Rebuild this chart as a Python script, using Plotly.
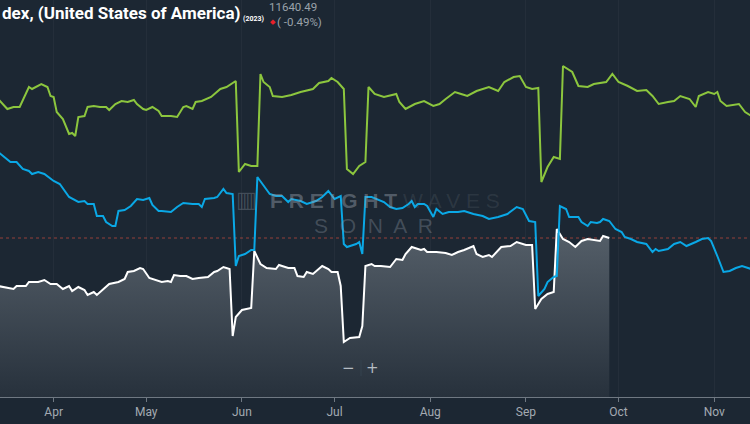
import plotly.graph_objects as go

# ---------------- data ----------------
GREEN_DAYS = ["03-14", "03-17", "03-19", "03-21", "03-24", "03-25", "03-28", "03-30", "03-31", "04-01",
              "04-02", "04-04", "04-06", "04-07", "04-08", "04-09", "04-11", "04-12", "04-14", "04-16",
              "04-18", "04-19", "04-21", "04-23", "04-25", "04-27", "04-28", "04-30", "05-01", "05-03",
              "05-05", "05-06", "05-09", "05-11", "05-13", "05-14", "05-16", "05-17", "05-19", "05-22",
              "05-25", "05-27", "05-30", "05-31", "06-02", "06-04", "06-06", "06-07", "06-08", "06-10",
              "06-11", "06-14", "06-17", "06-20", "06-24", "06-26", "06-29", "06-30", "07-02", "07-04",
              "07-05", "07-07", "07-09", "07-11", "07-12", "07-14", "07-17", "07-21", "07-22", "07-24",
              "07-27", "07-30", "08-02", "08-04", "08-06", "08-09", "08-11", "08-13", "08-16", "08-18",
              "08-20", "08-23", "08-25", "08-28", "08-30", "09-01", "09-03", "09-05", "09-06", "09-08",
              "09-10", "09-12", "09-13", "09-16", "09-18", "09-21", "09-23", "09-27", "09-29", "10-01",
              "10-04", "10-07", "10-10", "10-12", "10-14", "10-17", "10-19", "10-21", "10-24", "10-26",
              "10-27", "10-30", "11-01", "11-02", "11-03", "11-05", "11-08", "11-09", "11-11", "11-13"]
GREEN_VALUES = [298, 288, 290, 290, 310, 308, 313, 310, 301, 300,
                285, 278, 263, 264, 261, 280, 281, 290, 291, 290,
                290, 287, 293, 296, 295, 297, 293, 288, 287, 290,
                286, 281, 281, 280, 290, 291, 288, 295, 296, 300,
                308, 310, 316, 225, 233, 231, 231, 323, 315, 310,
                301, 300, 302, 305, 308, 314, 316, 319, 315, 308,
                228, 223, 231, 235, 310, 303, 300, 303, 295, 288,
                293, 296, 291, 293, 298, 305, 303, 301, 306, 308,
                310, 306, 315, 320, 321, 310, 308, 309, 215, 230,
                240, 238, 331, 325, 311, 310, 313, 315, 323, 315,
                311, 306, 307, 301, 293, 295, 296, 301, 298, 290,
                301, 305, 303, 305, 296, 291, 293, 293, 285, 281]

BLUE_DAYS = ["03-14", "03-18", "03-20", "03-22", "03-24", "03-25", "03-27", "03-29", "04-01", "04-03",
             "04-06", "04-09", "04-11", "04-12", "04-14", "04-15", "04-17", "04-18", "04-20", "04-21",
             "04-22", "04-24", "04-26", "04-28", "04-30", "05-02", "05-03", "05-05", "05-06", "05-09",
             "05-11", "05-13", "05-16", "05-18", "05-19", "05-20", "05-23", "05-24", "05-26", "05-27",
             "05-29", "05-30", "05-31", "06-02", "06-04", "06-05", "06-06", "06-08", "06-10", "06-12",
             "06-14", "06-16", "06-17", "06-20", "06-22", "06-25", "06-27", "06-29", "07-01", "07-03",
             "07-04", "07-05", "07-08", "07-09", "07-10", "07-11", "07-13", "07-17", "07-19", "07-21",
             "07-23", "07-25", "07-26", "07-27", "07-28", "07-30", "07-31", "08-02", "08-03", "08-05",
             "08-07", "08-10", "08-12", "08-15", "08-18", "08-20", "08-23", "08-26", "08-29", "08-31",
             "09-02", "09-04", "09-05", "09-07", "09-08", "09-10", "09-11", "09-12", "09-14", "09-15",
             "09-18", "09-19", "09-21", "09-22", "09-24", "09-25", "09-26", "09-28", "09-30", "10-02",
             "10-03", "10-05", "10-07", "10-10", "10-12", "10-13", "10-14", "10-17", "10-19", "10-21",
             "10-23", "10-26", "10-28", "10-30", "10-31", "11-02", "11-04", "11-06", "11-08", "11-10",
             "11-13"]
BLUE_VALUES = [245, 235, 235, 228, 226, 223, 225, 223, 216, 213,
               200, 195, 196, 193, 193, 181, 181, 175, 171, 171,
               186, 187, 191, 198, 197, 199, 192, 186, 186, 185,
               190, 194, 193, 193, 190, 198, 199, 200, 208, 204,
               203, 131, 141, 143, 147, 147, 220, 211, 203, 201,
               201, 195, 198, 196, 193, 196, 200, 206, 198, 201,
               153, 150, 153, 155, 143, 200, 200, 195, 190, 188,
               189, 193, 196, 190, 193, 193, 191, 180, 188, 183,
               185, 185, 186, 183, 181, 178, 180, 183, 190, 188,
               176, 175, 101, 108, 115, 120, 121, 191, 188, 180,
               180, 175, 171, 175, 174, 175, 178, 176, 168, 165,
               160, 158, 155, 153, 145, 148, 146, 148, 153, 155,
               151, 155, 158, 159, 156, 141, 125, 126, 129, 131,
               128]

WHITE_DAYS = ["03-14", "03-17", "03-19", "03-20", "03-23", "03-24", "03-27", "03-29", "03-31", "04-02",
              "04-03", "04-04", "04-06", "04-07", "04-09", "04-11", "04-12", "04-14", "04-15", "04-17",
              "04-19", "04-22", "04-24", "04-25", "04-27", "04-29", "04-30", "05-02", "05-04", "05-06",
              "05-08", "05-09", "05-10", "05-12", "05-14", "05-16", "05-18", "05-21", "05-23", "05-24",
              "05-26", "05-28", "05-29", "05-30", "06-01", "06-04", "06-05", "06-07", "06-09", "06-12",
              "06-13", "06-16", "06-18", "06-19", "06-21", "06-22", "06-24", "06-25", "06-27", "06-29",
              "06-30", "07-02", "07-03", "07-04", "07-06", "07-09", "07-10", "07-11", "07-13", "07-14",
              "07-16", "07-19", "07-21", "07-23", "07-24", "07-26", "07-29", "07-30", "07-31", "08-03",
              "08-06", "08-08", "08-10", "08-12", "08-15", "08-16", "08-18", "08-20", "08-21", "08-24",
              "08-27", "08-29", "09-01", "09-03", "09-04", "09-06", "09-08", "09-10", "09-11", "09-13",
              "09-15", "09-17", "09-19", "09-21", "09-23", "09-25", "09-26", "09-27", "09-28"]
WHITE_VALUES = [111, 109, 108, 111, 111, 115, 115, 117, 113, 113,
                110, 108, 111, 106, 110, 107, 102, 105, 102, 108,
                113, 115, 118, 125, 126, 129, 128, 119, 117, 115,
                116, 115, 122, 121, 121, 118, 119, 120, 125, 126,
                130, 128, 61, 80, 87, 89, 146, 133, 129, 128,
                132, 129, 129, 121, 120, 125, 123, 126, 131, 128,
                125, 125, 111, 55, 59, 60, 71, 131, 133, 131,
                131, 130, 138, 137, 143, 150, 147, 148, 145, 145,
                144, 142, 145, 147, 151, 143, 140, 142, 140, 150,
                151, 155, 152, 152, 88, 98, 103, 105, 168, 158,
                155, 150, 156, 158, 157, 156, 161, 160, 159]

REF_LEVEL = 159

MONTH_TICKS = ["2023-04-01", "2023-05-01", "2023-06-01", "2023-07-01",
               "2023-08-01", "2023-09-01", "2023-10-01", "2023-11-01"]
MONTH_LABELS = ["Apr", "May", "Jun", "Jul", "Aug", "Sep", "Oct", "Nov"]
X_RANGE = ["2023-03-14 15:00", "2023-11-12 14:00"]

TITLE = "dex, (United States of America)"
TITLE_YEAR = "(2023)"
LAST_VALUE = "11640.49"
LAST_CHANGE = "( -0.49%)"


def dates(days):
    return ["2023-" + d for d in days]


BG = "#1c2733"
W, H = 750, 424
B = 27
PH = H - B


def py(pix):
    return 1 - pix / PH


fig = go.Figure()
fig.add_trace(go.Scatter(
    x=dates(WHITE_DAYS), y=WHITE_VALUES, mode="lines",
    line=dict(color="#ffffff", width=2),
    fill="tozeroy",
    fillgradient=dict(type="vertical", start=0, stop=160,
                      colorscale=[[0, "#27313c"], [1, "#535d67"]]),
    hoverinfo="skip", showlegend=False))
fig.add_trace(go.Scatter(
    x=dates(BLUE_DAYS), y=BLUE_VALUES, mode="lines",
    line=dict(color="#0aa8e6", width=2), hoverinfo="skip", showlegend=False))
fig.add_trace(go.Scatter(
    x=dates(GREEN_DAYS), y=GREEN_VALUES, mode="lines",
    line=dict(color="#8cc63e", width=2), hoverinfo="skip", showlegend=False))

fig.add_hline(y=REF_LEVEL, line=dict(color="#93403a", width=1, dash="3px,3px"), layer="below")

fig.update_layout(
    width=W, height=H,
    margin=dict(l=0, r=0, t=0, b=B),
    paper_bgcolor=BG, plot_bgcolor=BG,
    font=dict(family="Roboto", color="#a3aab2"),
    xaxis=dict(range=X_RANGE, tickvals=MONTH_TICKS, ticktext=MONTH_LABELS,
               showgrid=True, gridcolor="rgba(255,255,255,0.035)", gridwidth=1,
               showline=True, linecolor="#6f7882", linewidth=1,
               ticks="outside", ticklen=4, tickcolor="#6f7882",
               tickfont=dict(size=12, color="#a3aab2", family="Roboto"),
               fixedrange=True),
    yaxis=dict(range=[0, PH], visible=False, showgrid=False, fixedrange=True),
)

WM_BOLD = "rgba(150,160,170,0.45)"
WM_LIGHT = "rgba(150,160,170,0.32)"

ann = []
# title block
ann.append(dict(text="<b>" + TITLE + "</b>", x=0, y=py(13), xanchor="left", yanchor="middle",
                font=dict(size=17, color="#ffffff", family="Roboto")))
ann.append(dict(text="<b>" + TITLE_YEAR + "</b>", x=241 / W, y=py(19), xanchor="left", yanchor="middle",
                font=dict(size=7, color="#ffffff", family="Roboto")))
ann.append(dict(text=LAST_VALUE, x=267 / W, y=py(7), xanchor="left", yanchor="middle",
                font=dict(size=11.5, color="#9aa2aa", family="Roboto")))
ann.append(dict(text="◆", x=268 / W, y=py(22), xanchor="left", yanchor="middle",
                font=dict(size=7, color="#e8202a", family="DejaVu Sans")))
ann.append(dict(text=LAST_CHANGE, x=275 / W, y=py(22), xanchor="left", yanchor="middle",
                font=dict(size=11.5, color="#9aa2aa", family="Roboto")))
# watermark
ann.append(dict(text="▥", x=246 / W, y=py(199), xanchor="center", yanchor="middle",
                font=dict(size=22, color=WM_LIGHT, family="DejaVu Sans")))
ann.append(dict(text="<b>F R E I G H T</b><span style='color:" + WM_LIGHT + "'> W A V E S</span>",
                x=385 / W, y=py(200), xanchor="center", yanchor="middle",
                font=dict(size=21, color=WM_BOLD, family="Liberation Sans")))
ann.append(dict(text="S  O  N  A  R", x=373 / W, y=py(225), xanchor="center", yanchor="middle",
                font=dict(size=21, color=WM_LIGHT, family="Liberation Sans")))
# zoom buttons
ann.append(dict(text="−", x=348 / W, y=py(368), xanchor="center", yanchor="middle",
                font=dict(size=15, color="#b5bcc3", family="DejaVu Sans")))
ann.append(dict(text="+", x=372 / W, y=py(368), xanchor="center", yanchor="middle",
                font=dict(size=15, color="#b5bcc3", family="DejaVu Sans")))
for a in ann:
    a.update(xref="paper", yref="paper", showarrow=False)
fig.update_layout(annotations=ann)

fig.add_shape(type="rect", xref="paper", yref="paper",
              x0=336 / W, x1=385 / W, y0=py(379), y1=py(357),
              fillcolor="#222f3c", line=dict(width=0), layer="below")
fig.add_shape(type="line", xref="paper", yref="paper",
              x0=361 / W, x1=361 / W, y0=py(376), y1=py(360),
              line=dict(color="#34424f", width=1))

fig.write_html("out.html")
